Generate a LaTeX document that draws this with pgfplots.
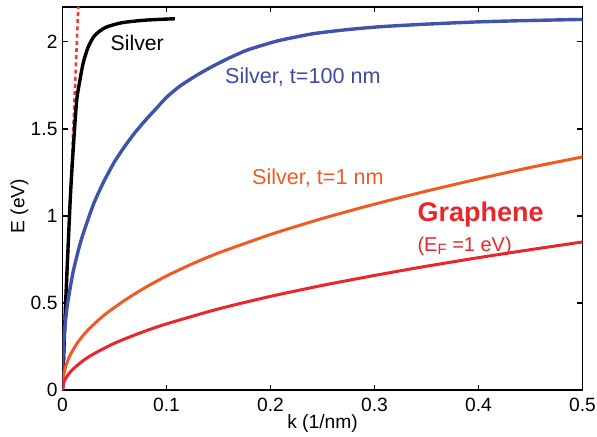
\documentclass[border=0pt]{standalone}
\usepackage{fontspec}
\setmainfont{Liberation Sans}
\usepackage{pgfplots}
\pgfplotsset{compat=1.18}
\definecolor{cblue}{HTML}{4052AA}
\definecolor{corange}{HTML}{F05A24}
\definecolor{cred}{HTML}{E8262B}
\definecolor{cdot}{HTML}{F03A3A}
\definecolor{lblue}{HTML}{3C4BA0}
\begin{document}
\begin{tikzpicture}
\path[use as bounding box] (-31.25pt,-23pt) rectangle (267.25pt,195.05pt);
\begin{axis}[
  scale only axis, width=260pt, height=191.7pt,
  at={(0,0)}, anchor=south west,
  xmin=0, xmax=0.5, ymin=0, ymax=2.2,
  xtick={0,0.1,0.2,0.3,0.4,0.5},
  ytick={0,0.5,1,1.5,2},
  axis line style={draw=black, line width=0.9pt},
  tick align=inside, tick pos=both,
  major tick length=2.8pt,
  every tick/.style={draw=black, line width=0.9pt},
  /pgf/number format/assume math mode=true,
  tick label style={font=\fontsize{9.6}{11}\selectfont},
  xticklabel style={yshift=-0.5pt},
  yticklabel style={xshift=1pt},
  xlabel={k (1/nm)}, ylabel={E (eV)},
  label style={font=\fontsize{9.6}{11}\selectfont},
  xlabel style={at={(axis description cs:0.5,0)}, anchor=center, yshift=-16.5pt},
  ylabel style={at={(axis description cs:0,0.48)}, anchor=center, yshift=21.5pt},
]
% light line
\addplot[cdot, line width=1.3pt, dash pattern=on 2pt off 1.6pt] coordinates {(0,0) (0.0152,2.2)};
% bulk silver
\addplot[black, line width=1.7pt, smooth, tension=0.4] coordinates {
(0,0) (0.003,0.5) (0.0075,1.1) (0.0105,1.4) (0.0136,1.66) (0.0168,1.78) (0.020,1.88)
(0.0248,1.97) (0.031,2.035) (0.041,2.08) (0.057,2.108) (0.08,2.123) (0.108,2.131)};
% silver t=100 nm
\addplot[cblue, line width=1.7pt, smooth, tension=0.4] coordinates {
(0,0) (0.0005,0.19) (0.001,0.256) (0.0025,0.376) (0.005,0.502) (0.01,0.672) (0.015,0.797)
(0.02,0.9) (0.03,1.07) (0.04,1.2) (0.05,1.31) (0.06,1.40) (0.07,1.48) (0.08,1.55)
(0.09,1.615) (0.10,1.68) (0.113,1.745) (0.13,1.81) (0.145,1.86) (0.16,1.905) (0.177,1.95)
(0.193,1.98) (0.209,2.007) (0.241,2.045) (0.273,2.068) (0.305,2.085) (0.35,2.10)
(0.40,2.113) (0.45,2.121) (0.5,2.127)};
% silver t=1 nm
\addplot[corange, line width=1.5pt, smooth, tension=0.4] coordinates {
(0,0) (0.0005,0.06) (0.001,0.082) (0.003,0.134) (0.0072,0.199) (0.015,0.277) (0.025,0.348)
(0.04,0.43) (0.06,0.516) (0.08,0.59) (0.1,0.655) (0.125,0.725) (0.15,0.787) (0.2,0.893)
(0.25,0.985) (0.3,1.067) (0.35,1.142) (0.4,1.212) (0.45,1.278) (0.5,1.338)};
% graphene
\addplot[cred, line width=1.5pt, smooth, tension=0.4] coordinates {
(0,0) (0.001,0.038) (0.003,0.066) (0.006,0.093) (0.01,0.120) (0.02,0.170) (0.03,0.208)
(0.05,0.269) (0.075,0.329) (0.1,0.380) (0.15,0.466) (0.2,0.538) (0.25,0.601) (0.3,0.658)
(0.35,0.711) (0.4,0.760) (0.45,0.806) (0.5,0.85)};
\node[anchor=base west, inner sep=0pt, font=\fontsize{10.6}{12}\selectfont] at (axis cs:0.046,1.95) {Silver};
\node[anchor=base west, inner sep=0pt, text=lblue, font=\fontsize{10.8}{12}\selectfont] at (axis cs:0.156,1.759) {Silver, t=100 nm};
\node[anchor=base west, inner sep=0pt, text=corange, font=\fontsize{10.8}{12}\selectfont] at (axis cs:0.182,1.179) {Silver, t=1 nm};
\node[anchor=base west, inner sep=0pt, text=cred, font=\fontsize{13.5}{15}\selectfont\bfseries] at (axis cs:0.341,0.965) {Graphene};
\node[anchor=base west, inner sep=0pt, text=cred, font=\fontsize{10}{12}\selectfont] at (axis cs:0.341,0.793) {(E\raisebox{-0.25ex}{\fontsize{7.5}{8}\selectfont F} =1 eV)};
\end{axis}
\end{tikzpicture}
\end{document}
